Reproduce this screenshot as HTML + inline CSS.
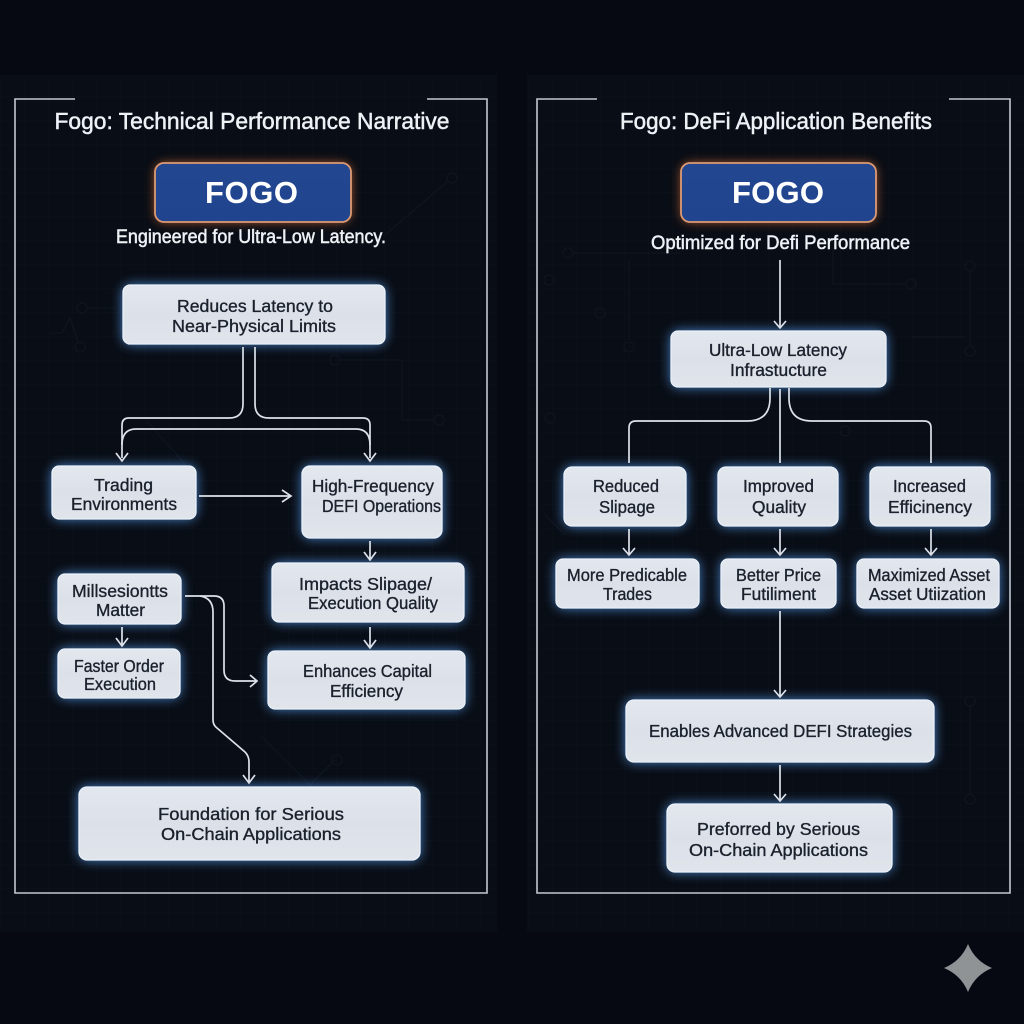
<!DOCTYPE html>
<html>
<head>
<meta charset="utf-8">
<style>
html,body{margin:0;padding:0;background:#060911;width:1024px;height:1024px;overflow:hidden}
svg{display:block}
text{font-family:"Liberation Sans",sans-serif}
.d{fill:#1a202c;font-size:17.5px;stroke:#1a202c;stroke-width:.35}
.w{fill:#eef2f7;stroke:#eef2f7;stroke-width:.5}
.t{font-size:23.5px}
.s{font-size:19px}
.f{font-size:31px;font-weight:bold;fill:#fff}
.c{fill:none;stroke:#dde2ea;stroke-width:1.7}
.fr{fill:none;stroke:#c4c8cf;stroke-width:1.6}
.dc{fill:none;stroke:#0f1520;stroke-width:1.3}
</style>
</head>
<body>
<svg width="1024" height="1024" viewBox="0 0 1024 1024" xmlns="http://www.w3.org/2000/svg">
<defs>
<pattern id="g" width="24" height="24" patternUnits="userSpaceOnUse">
<path d="M24 0H0V24" fill="none" stroke="#121824" stroke-width="1"/>
</pattern>
<linearGradient id="n" x1="0" y1="0" x2="0" y2="1">
<stop offset="0" stop-color="#e3e7ee"/>
<stop offset=".5" stop-color="#dce0e8"/>
<stop offset="1" stop-color="#e0e4eb"/>
</linearGradient>
<linearGradient id="b" x1="0" y1="0" x2="0" y2="1">
<stop offset="0" stop-color="#224690"/>
<stop offset="1" stop-color="#21448f"/>
</linearGradient>
<filter id="gl" x="-30%" y="-50%" width="160%" height="200%"><feGaussianBlur stdDeviation="6"/></filter>
<filter id="go" x="-30%" y="-50%" width="160%" height="200%"><feGaussianBlur stdDeviation="5"/></filter>
</defs>

<rect width="1024" height="1024" fill="#060911"/>
<rect x="0" y="75" width="497" height="857" fill="#090d15"/>
<rect x="527" y="75" width="497" height="857" fill="#090d15"/>
<rect x="0" y="75" width="497" height="857" fill="url(#g)" opacity=".45"/>
<rect x="527" y="75" width="497" height="857" fill="url(#g)" opacity=".45"/>

<!-- faint circuits -->
<g class="dc">
<circle cx="82" cy="308" r="5"/><path d="M87 308H115"/>
<path d="M50 333H62L70 318L78 342"/><circle cx="80" cy="347" r="5"/>
<circle cx="335" cy="360" r="5"/><path d="M340 360H402V420H434"/><circle cx="439" cy="420" r="5"/>
<path d="M385 235L448 181"/><circle cx="452" cy="178" r="5"/>
<path d="M146 420L190 470"/><path d="M260 735L310 785L335 760"/><circle cx="337" cy="760" r="5"/>
<circle cx="568" cy="253" r="5"/><path d="M573 253H680"/>
<circle cx="549" cy="280" r="5"/><circle cx="600" cy="313" r="5"/>
<path d="M629 260V340"/><circle cx="629" cy="347" r="5"/>
<path d="M833 250V284H905"/><circle cx="911" cy="284" r="5"/>
<circle cx="970" cy="266" r="5"/><path d="M970 271V345"/><circle cx="970" cy="351" r="5"/>
<path d="M912 337H965"/>
<circle cx="550" cy="418" r="5"/><circle cx="845" cy="431" r="5"/>
<circle cx="970" cy="701" r="5"/><path d="M970 706V794"/><circle cx="970" cy="799" r="5"/>
<path d="M545 515L565 535"/>
</g>

<!-- frames -->
<path class="fr" d="M75 99H15V893H487V99H427"/>
<path class="fr" d="M597 99H537V893H1010V99H949"/>

<!-- glows -->
<g fill="#4f93e0" opacity=".95" filter="url(#gl)">
<rect x="123" y="285" width="262" height="59" rx="8"/>
<rect x="52" y="466" width="144" height="53" rx="8"/>
<rect x="302" y="466" width="140" height="72" rx="8"/>
<rect x="272" y="563" width="192" height="59" rx="8"/>
<rect x="58" y="574" width="123" height="50" rx="8"/>
<rect x="58" y="649" width="122" height="49" rx="8"/>
<rect x="268" y="651" width="197" height="58" rx="8"/>
<rect x="79" y="787" width="341" height="73" rx="8"/>
<rect x="671" y="331" width="215" height="56" rx="8"/>
<rect x="564" y="467" width="122" height="59" rx="8"/>
<rect x="718" y="467" width="120" height="59" rx="8"/>
<rect x="870" y="467" width="120" height="59" rx="8"/>
<rect x="556" y="559" width="143" height="49" rx="8"/>
<rect x="721" y="559" width="115" height="49" rx="8"/>
<rect x="857" y="559" width="142" height="49" rx="8"/>
<rect x="626" y="700" width="308" height="62" rx="8"/>
<rect x="667" y="804" width="225" height="68" rx="8"/>
</g>
<g fill="#e0733a" opacity=".75" filter="url(#go)">
<rect x="155" y="163" width="196" height="59" rx="10"/>
<rect x="681" y="163" width="195" height="59" rx="10"/>
</g>

<!-- FOGO boxes -->
<g fill="url(#b)" stroke="#dd9a72" stroke-width="1.8">
<rect x="155" y="163" width="196" height="59" rx="9"/>
<rect x="681" y="163" width="195" height="59" rx="9"/>
</g>

<!-- nodes -->
<g fill="url(#n)" stroke="#eaf1fa" stroke-width="1.3">
<rect x="123" y="285" width="262" height="59" rx="7"/>
<rect x="52" y="466" width="144" height="53" rx="7"/>
<rect x="302" y="466" width="140" height="72" rx="8"/>
<rect x="272" y="563" width="192" height="59" rx="7"/>
<rect x="58" y="574" width="123" height="50" rx="7"/>
<rect x="58" y="649" width="122" height="49" rx="7"/>
<rect x="268" y="651" width="197" height="58" rx="7"/>
<rect x="79" y="787" width="341" height="73" rx="8"/>
<rect x="671" y="331" width="215" height="56" rx="7"/>
<rect x="564" y="467" width="122" height="59" rx="8"/>
<rect x="718" y="467" width="120" height="59" rx="8"/>
<rect x="870" y="467" width="120" height="59" rx="8"/>
<rect x="556" y="559" width="143" height="49" rx="7"/>
<rect x="721" y="559" width="115" height="49" rx="7"/>
<rect x="857" y="559" width="142" height="49" rx="7"/>
<rect x="626" y="700" width="308" height="62" rx="8"/>
<rect x="667" y="804" width="225" height="68" rx="8"/>
</g>

<!-- connectors left -->
<g class="c">
<path d="M243 347V404Q243 418 229 418H129Q122 418 122 425V458"/>
<path d="M255 347V404Q255 418 269 418H363Q370 418 370 425V458"/>
<path d="M122 445Q122 429 136 429H356Q370 429 370 445"/>
<path d="M116 453L122 461L128 453"/>
<path d="M364 453L370 461L376 453"/>
<path d="M199 496H290M282 490L291 496L282 502"/>
<path d="M370 541V559M364 552L370 560L376 552"/>
<path d="M370 627V647M364 640L370 648L376 640"/>
<path d="M122 627V645M116 638L122 646L128 638"/>
<path d="M185 596H214Q224 596 224 606V670Q224 681 235 681H256M250 675L257 681L250 687"/>
<path d="M200 596Q213 598 213 612V720Q213 725 217 728L245 752Q249 756 249 762V782M243 775L249 783L255 775"/>
</g>

<!-- connectors right -->
<g class="c">
<path d="M780 260V328M774 321L780 328L786 321"/>
<path d="M770 388V398Q770 421 747 421H636Q629 421 629 428V463"/>
<path d="M780 389V463"/>
<path d="M789 388V398Q789 421 812 421H924Q931 421 931 428V463"/>
<path d="M629 529V555M623 548L629 555L635 548"/>
<path d="M780 529V555M774 548L780 555L786 548"/>
<path d="M931 529V555M925 548L931 555L937 548"/>
<path d="M780 611V696M774 690L780 697L786 690"/>
<path d="M780 765V800M774 794L780 801L786 794"/>
</g>

<!-- titles -->
<text class="w t" x="54.5" y="129" textLength="395" lengthAdjust="spacingAndGlyphs">Fogo: Technical Performance Narrative</text>
<text class="w t" x="620" y="129" textLength="312" lengthAdjust="spacingAndGlyphs">Fogo: DeFi Application Benefits</text>
<text class="f" x="205" y="203" textLength="93" lengthAdjust="spacing">FOGO</text>
<text class="f" x="732" y="203" textLength="92" lengthAdjust="spacing">FOGO</text>
<text class="w s" x="116" y="243" textLength="270" lengthAdjust="spacingAndGlyphs">Engineered for Ultra-Low Latency.</text>
<text class="w s" x="651" y="249" textLength="259" lengthAdjust="spacingAndGlyphs">Optimized for Defi Performance</text>

<!-- left labels -->
<g>
<text class="d" x="177" y="312" textLength="156" lengthAdjust="spacingAndGlyphs">Reduces Latency to</text>
<text class="d" x="172" y="332" textLength="164" lengthAdjust="spacingAndGlyphs">Near-Physical Limits</text>
<text class="d" x="94" y="491" textLength="59" lengthAdjust="spacingAndGlyphs">Trading</text>
<text class="d" x="71" y="510" textLength="106" lengthAdjust="spacingAndGlyphs">Environments</text>
<text class="d" x="312" y="492" textLength="122" lengthAdjust="spacingAndGlyphs">High-Frequency</text>
<text class="d" x="322" y="512" textLength="119" lengthAdjust="spacingAndGlyphs">DEFI Operations</text>
<text class="d" x="299" y="590" textLength="133" lengthAdjust="spacingAndGlyphs">Impacts Slipage/</text>
<text class="d" x="308" y="609" textLength="130" lengthAdjust="spacingAndGlyphs">Execution Quality</text>
<text class="d" x="72" y="597" textLength="96" lengthAdjust="spacingAndGlyphs">Millsesiontts</text>
<text class="d" x="96" y="616" textLength="49" lengthAdjust="spacingAndGlyphs">Matter</text>
<text class="d" x="74" y="672" textLength="90" lengthAdjust="spacingAndGlyphs">Faster Order</text>
<text class="d" x="84" y="690" textLength="72" lengthAdjust="spacingAndGlyphs">Execution</text>
<text class="d" x="303" y="677" textLength="129" lengthAdjust="spacingAndGlyphs">Enhances Capital</text>
<text class="d" x="330" y="697" textLength="73" lengthAdjust="spacingAndGlyphs">Efficiency</text>
<text class="d" x="158" y="820" textLength="186" lengthAdjust="spacingAndGlyphs">Foundation for Serious</text>
<text class="d" x="161" y="840" textLength="180" lengthAdjust="spacingAndGlyphs">On-Chain Applications</text>
</g>

<!-- right labels -->
<g>
<text class="d" x="709" y="356" textLength="138" lengthAdjust="spacingAndGlyphs">Ultra-Low Latency</text>
<text class="d" x="730" y="376" textLength="97" lengthAdjust="spacingAndGlyphs">Infrastucture</text>
<text class="d" x="593" y="492" textLength="66" lengthAdjust="spacingAndGlyphs">Reduced</text>
<text class="d" x="599" y="513" textLength="56" lengthAdjust="spacingAndGlyphs">Slipage</text>
<text class="d" x="743" y="492" textLength="71" lengthAdjust="spacingAndGlyphs">Improved</text>
<text class="d" x="752" y="513" textLength="54" lengthAdjust="spacingAndGlyphs">Quality</text>
<text class="d" x="893" y="492" textLength="73" lengthAdjust="spacingAndGlyphs">Increased</text>
<text class="d" x="888" y="513" textLength="84" lengthAdjust="spacingAndGlyphs">Efficinency</text>
<text class="d" x="567" y="581" textLength="120" lengthAdjust="spacingAndGlyphs">More Predicable</text>
<text class="d" x="603" y="600" textLength="49" lengthAdjust="spacingAndGlyphs">Trades</text>
<text class="d" x="736" y="581" textLength="85" lengthAdjust="spacingAndGlyphs">Better Price</text>
<text class="d" x="741" y="600" textLength="75" lengthAdjust="spacingAndGlyphs">Futiliment</text>
<text class="d" x="868" y="581" textLength="122" lengthAdjust="spacingAndGlyphs">Maximized Asset</text>
<text class="d" x="869" y="600" textLength="117" lengthAdjust="spacingAndGlyphs">Asset Utiization</text>
<text class="d" x="649" y="737" textLength="263" lengthAdjust="spacingAndGlyphs">Enables Advanced DEFI Strategies</text>
<text class="d" x="697" y="835" textLength="163" lengthAdjust="spacingAndGlyphs">Preforred by Serious</text>
<text class="d" x="689" y="856" textLength="179" lengthAdjust="spacingAndGlyphs">On-Chain Applications</text>
</g>

<!-- star -->
<path d="M968 944Q975 961 992 968Q975 975 968 992Q961 975 944 968Q961 961 968 944Z" fill="#909396"/>
</svg>
</body>
</html>
